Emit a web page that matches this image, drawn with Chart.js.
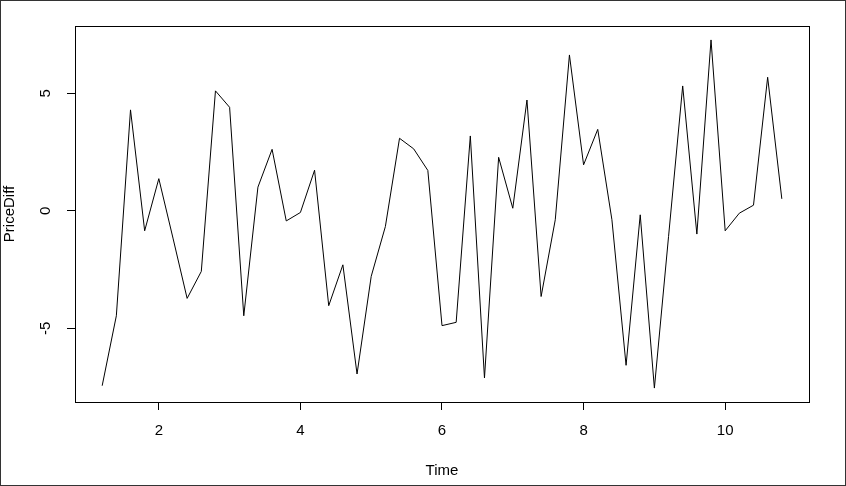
<!DOCTYPE html>
<html>
<head>
<meta charset="utf-8">
<script src="https://cdn.jsdelivr.net/npm/chart.js@4/dist/chart.umd.min.js"></script>
<style>
  html, body { margin: 0; padding: 0; background: #fff; }
  canvas { display: block; }
</style>
</head>
<body>
<canvas id="tsChart" width="846" height="486"></canvas>
<script>
// Série temporelle (fréquence 5, de 1.2 à 10.8)
const times = [1.2, 1.4, 1.6, 1.8, 2.0, 2.2, 2.4, 2.6, 2.8, 3.0,
               3.2, 3.4, 3.6, 3.8, 4.0, 4.2, 4.4, 4.6, 4.8, 5.0,
               5.2, 5.4, 5.6, 5.8, 6.0, 6.2, 6.4, 6.6, 6.8, 7.0,
               7.2, 7.4, 7.6, 7.8, 8.0, 8.2, 8.4, 8.6, 8.8, 9.0,
               9.2, 9.4, 9.6, 9.8, 10.0, 10.2, 10.4, 10.6, 10.8];
const priceDiff = [-7.45, -4.47, 4.30, -0.85, 1.37, -1.16, -3.73, -2.58, 5.11, 4.41,
                   -4.47, 1.01, 2.62, -0.43, -0.07, 1.73, -4.04, -2.30, -6.95, -2.79,
                   -0.67, 3.09, 2.64, 1.72, -4.89, -4.75, 3.19, -7.12, 2.28, 0.11,
                   4.72, -3.65, -0.38, 6.64, 1.96, 3.47, -0.38, -6.58, -0.17, -7.55,
                   -1.10, 5.32, -0.99, 7.28, -0.85, -0.10, 0.24, 5.69, 0.51];
const xTicks = [2, 4, 6, 8, 10];
const yTicks = [-5, 0, 5];

// étendue à la R (4 % de chaque côté)
function rRange(arr) {
    const lo = Math.min(...arr), hi = Math.max(...arr);
    const d = (hi - lo) * 0.04;
    return [lo - d, hi + d];
}
const [xMin, xMax] = rRange(times);
const [yMin, yMax] = rRange(priceDiff);

const FONT = { family: '"Liberation Sans", Arial, sans-serif', size: 15 };

// cadre du graphique + cadre extérieur
const framePlugin = {
    id: 'frame',
    afterDraw(chart) {
        const { ctx, chartArea: a } = chart;
        ctx.save();
        ctx.strokeStyle = '#000';
        ctx.lineWidth = 1;
        ctx.strokeRect(Math.round(a.left) + 0.5, Math.round(a.top) + 0.5,
                       Math.round(a.right - a.left), Math.round(a.bottom - a.top));
        ctx.strokeStyle = '#333';
        ctx.strokeRect(0.5, 0.5, chart.width - 1, chart.height - 1);
        ctx.restore();
    }
};

const ctx = document.getElementById('tsChart').getContext('2d');
const tsChart = new Chart(ctx, {
    type: 'line',
    data: {
        datasets: [{
            label: 'PriceDiff',
            data: times.map((t, i) => ({ x: t, y: priceDiff[i] })),
            borderColor: '#000',
            borderWidth: 1,
            pointRadius: 0,
            tension: 0,
            fill: false
        }]
    },
    options: {
        responsive: false,
        animation: false,
        devicePixelRatio: 1,
        layout: { padding: { top: 26, right: 37, left: 0, bottom: 0 } },
        plugins: {
            legend: { display: false },
            tooltip: { enabled: false }
        },
        scales: {
            x: {
                type: 'linear',
                min: xMin,
                max: xMax,
                afterBuildTicks: s => { s.ticks = xTicks.map(v => ({ value: v })); },
                afterFit: s => { s.height = 84; },
                grid: { drawOnChartArea: false, color: '#000', tickLength: 8, tickWidth: 1 },
                border: { display: true, color: '#000' },
                ticks: { color: '#000', font: FONT, padding: 12, maxRotation: 0, autoSkip: false },
                title: { display: true, text: 'Time', color: '#000', font: FONT, padding: { top: 0, bottom: 6 } }
            },
            y: {
                type: 'linear',
                min: yMin,
                max: yMax,
                afterBuildTicks: s => { s.ticks = yTicks.map(v => ({ value: v })); },
                afterFit: s => { s.width = 75; },
                grid: { drawOnChartArea: false, color: '#000', tickLength: 8, tickWidth: 1 },
                border: { display: true, color: '#000' },
                ticks: { color: '#000', font: FONT, padding: 14, minRotation: 90, maxRotation: 90,
                         crossAlign: 'center', autoSkip: false },
                title: { display: true, text: 'PriceDiff', color: '#000', font: FONT, padding: { top: 1, bottom: 1 } }
            }
        }
    },
    plugins: [framePlugin]
});
</script>
</body>
</html>
